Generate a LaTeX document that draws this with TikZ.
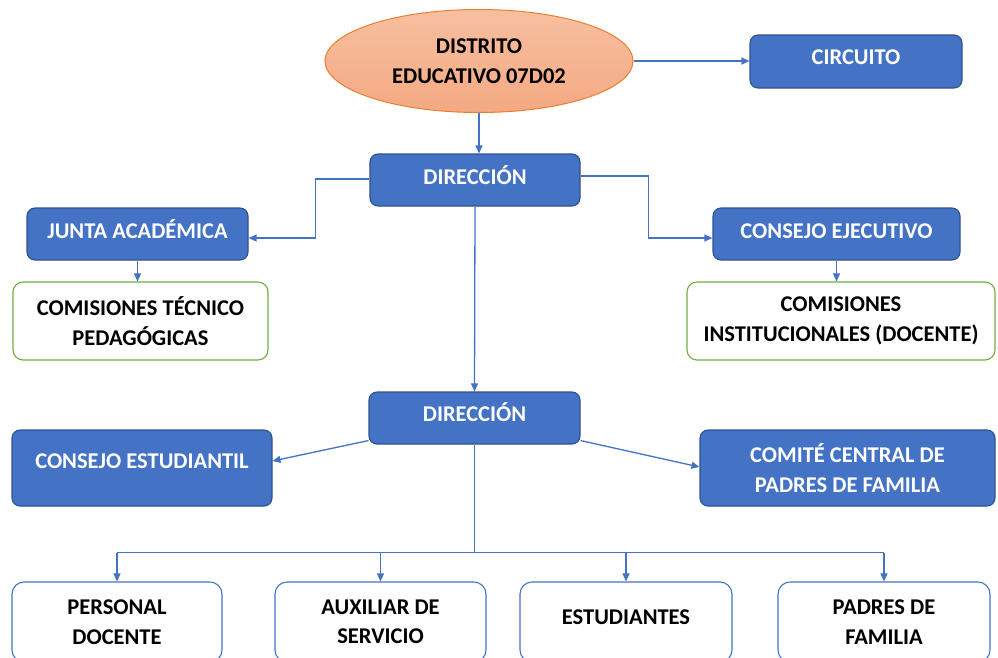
\documentclass[tikz,border=0pt]{standalone}
\usepackage{fontspec}
\setmainfont{Carlito}
\usetikzlibrary{shapes.geometric,arrows.meta,calc}
\definecolor{blueF}{HTML}{4472C4}
\definecolor{blueD}{HTML}{2F528F}
\definecolor{peachT}{HTML}{F7BFA0}
\definecolor{peachB}{HTML}{F4A982}
\definecolor{orangeD}{HTML}{ED7D31}
\definecolor{greenB}{HTML}{70AD47}
\begin{document}
\begin{tikzpicture}[x=1pt,y=-1pt,
  lbl/.style={font=\bfseries\fontsize{22.5}{29.5}\selectfont, align=center, inner sep=0pt},
  bluebox/.style={lbl, draw=blueD, fill=blueF, rounded corners=8pt, line width=1.1pt, text=white},
  greenbox/.style={lbl, draw=greenB, fill=white, rounded corners=10pt, line width=1.1pt, text=black},
  whitebox/.style={lbl, draw=blueF, fill=white, rounded corners=12pt, line width=1.1pt, text=black},
  oneline/.style={text height=14.5pt, text depth=#1},
  conn/.style={draw=blueF, line width=1.3pt},
  arr/.style={conn, -{Triangle[length=8pt,width=7pt]}}]
\useasboundingbox (0,0) rectangle (998,657);
\clip (0,0) rectangle (998,657);

% nodes
\node[lbl, ellipse, draw=orangeD, line width=1pt, top color=peachT, bottom color=peachB,
      minimum width=308pt, minimum height=103pt, text=black] (dist) at (479,61) {DISTRITO\\EDUCATIVO 07D02};
\node[bluebox, oneline=8pt, minimum width=212pt, minimum height=53pt] (circ) at (856,61.5) {CIRCUITO};
\node[bluebox, oneline=6pt, minimum width=210pt, minimum height=52pt] (dir1) at (475,180) {DIRECCIÓN};
\node[bluebox, oneline=6pt, minimum width=221pt, minimum height=52pt] (junta) at (137.5,234) {JUNTA ACADÉMICA};
\node[bluebox, oneline=6pt, minimum width=247pt, minimum height=52pt] (ejec) at (836.5,234) {CONSEJO EJECUTIVO};
\node[greenbox, minimum width=255pt, minimum height=78pt] (comT) at (140.5,321) {COMISIONES TÉCNICO\\PEDAGÓGICAS};
\node[greenbox, minimum width=308pt, minimum height=78pt] (comI) at (841,321) {COMISIONES\\INSTITUCIONALES (DOCENTE)};
\node[bluebox, oneline=8pt, minimum width=211pt, minimum height=52pt] (dir2) at (474.5,418) {DIRECCIÓN};
\node[bluebox, oneline=14pt, minimum width=260pt, minimum height=76pt] (cest) at (142,468) {CONSEJO ESTUDIANTIL};
\node[bluebox, minimum width=295pt, minimum height=76pt] (comite) at (847.5,468) {COMITÉ CENTRAL DE\\PADRES DE FAMILIA};
\node[whitebox, minimum width=210pt, minimum height=80pt] (pers) at (117,622) {PERSONAL\\DOCENTE};
\node[whitebox, minimum width=211pt, minimum height=80pt] (aux) at (380.5,622) {AUXILIAR DE\\SERVICIO};
\node[whitebox, oneline=10pt, minimum width=212pt, minimum height=80pt] (estu) at (626,622) {ESTUDIANTES};
\node[whitebox, minimum width=212pt, minimum height=80pt] (padres) at (884,622) {PADRES DE\\FAMILIA};

% connectors
\draw[arr] (dist.east) -- (dist.east -| circ.west);
\draw[arr] (dist.south) -- (dist.south |- dir1.north);
\draw[arr] ([yshift=1pt]dir1.west) -- ++(-54,0) |- ([yshift=-4pt]junta.east);
\draw[arr] ([yshift=4pt]dir1.east) -- ++(68,0) |- ([yshift=-4pt]ejec.west);
\draw[arr] (junta.south) -- (junta.south |- comT.north);
\draw[arr] (ejec.south) -- (ejec.south |- comI.north);
\draw[arr] (dir1.south) -- (dir2.north);
\draw[arr] ([yshift=4pt]dir2.south west) -- ([yshift=7pt]cest.east);
\draw[arr] ([yshift=4pt]dir2.south east) -- ([yshift=1pt]comite.west);
\coordinate (bus) at ($(dir2.south)+(0,108)$);
\draw[conn] (dir2.south) -- (bus);
\draw[conn] (pers.north |- bus) -- (padres.north |- bus);
\foreach \n in {pers,aux,estu,padres}{
  \draw[arr] (\n.north |- bus) -- (\n.north);
}
\end{tikzpicture}
\end{document}
